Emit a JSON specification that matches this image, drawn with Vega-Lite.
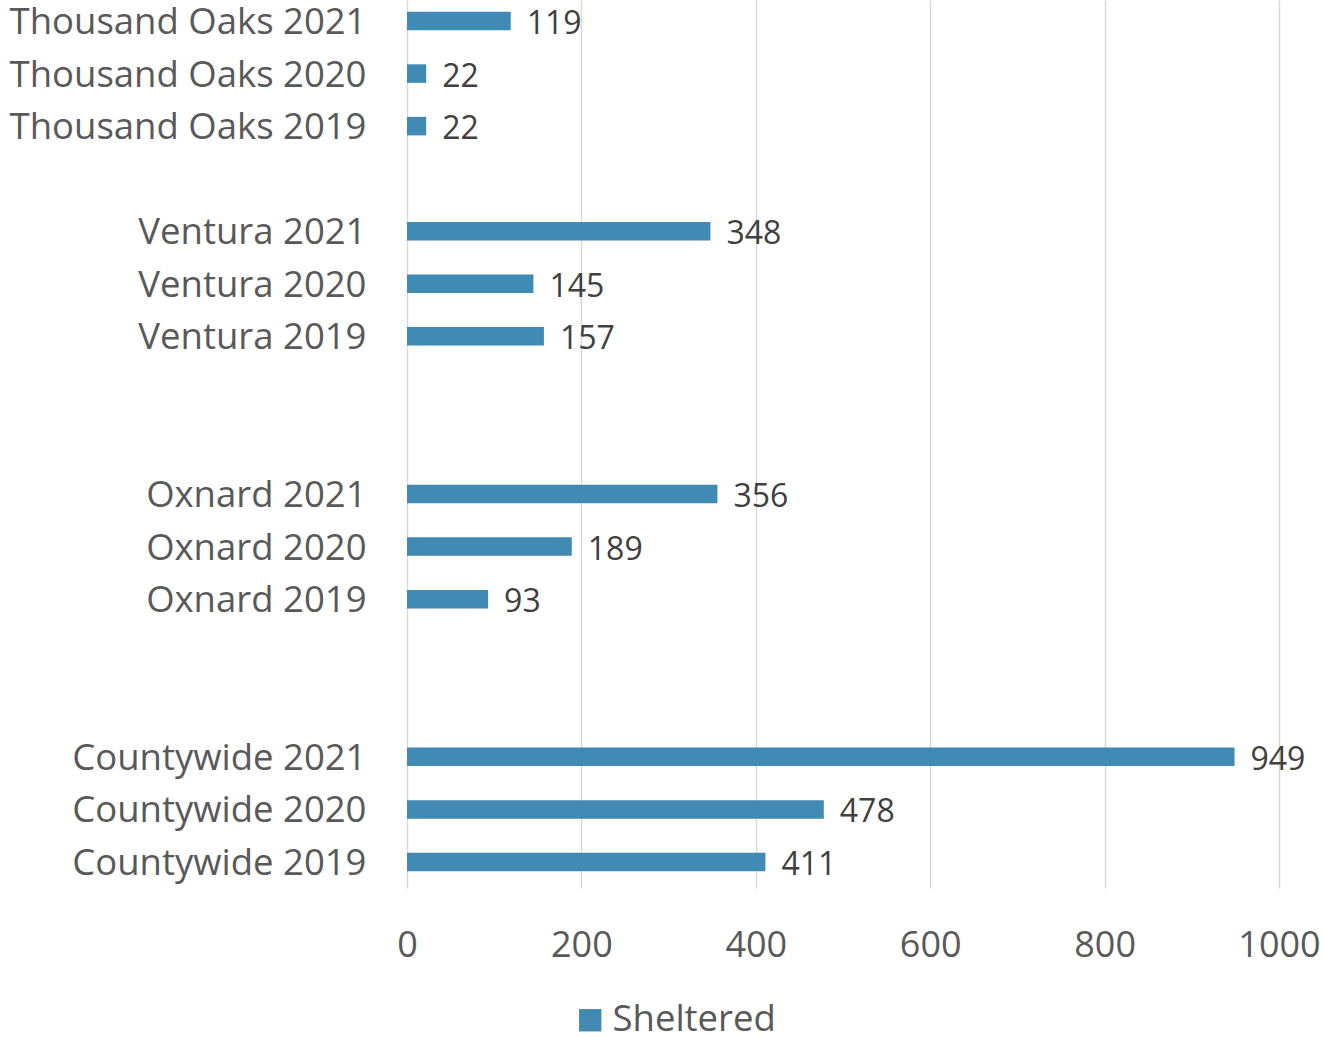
{
  "$schema": "https://vega.github.io/schema/vega-lite/v6.json",
  "width": 872,
  "height": 888,
  "autosize": {"type": "none"},
  "padding": {"left": 407, "top": 0, "right": 45, "bottom": 150},
  "background": "white",
  "config": {"view": {"stroke": null}, "font": "Open Sans"},
  "data": {
    "values": [
      {"label": "Thousand Oaks 2021", "value": 119, "series": "Sheltered"},
      {"label": "Thousand Oaks 2020", "value": 22, "series": "Sheltered"},
      {"label": "Thousand Oaks 2019", "value": 22, "series": "Sheltered"},
      {"label": "Ventura 2021", "value": 348, "series": "Sheltered"},
      {"label": "Ventura 2020", "value": 145, "series": "Sheltered"},
      {"label": "Ventura 2019", "value": 157, "series": "Sheltered"},
      {"label": "Oxnard 2021", "value": 356, "series": "Sheltered"},
      {"label": "Oxnard 2020", "value": 189, "series": "Sheltered"},
      {"label": "Oxnard 2019", "value": 93, "series": "Sheltered"},
      {"label": "Countywide 2021", "value": 949, "series": "Sheltered"},
      {"label": "Countywide 2020", "value": 478, "series": "Sheltered"},
      {"label": "Countywide 2019", "value": 411, "series": "Sheltered"}
    ]
  },
  "encoding": {
    "y": {
      "field": "label",
      "type": "nominal",
      "sort": null,
      "scale": {
        "domain": ["Thousand Oaks 2021", "Thousand Oaks 2020", "Thousand Oaks 2019", "gap1",
                   "Ventura 2021", "Ventura 2020", "Ventura 2019", "gap2", "gap3",
                   "Oxnard 2021", "Oxnard 2020", "Oxnard 2019", "gap4", "gap5",
                   "Countywide 2021", "Countywide 2020", "Countywide 2019"],
        "paddingInner": 0.648,
        "paddingOuter": 0.2715,
        "align": 0.412
      },
      "axis": {
        "title": null,
        "domain": false,
        "ticks": false,
        "grid": false,
        "labelExpr": "indexof(datum.value, 'gap') == 0 ? '' : datum.value",
        "labelFont": "Open Sans",
        "labelFontSize": 36.5,
        "labelColor": "#595959",
        "labelPadding": 41,
        "labelOffset": 2,
        "labelLimit": 500
      }
    },
    "x": {
      "field": "value",
      "type": "quantitative",
      "scale": {"domain": [0, 1000], "nice": false},
      "axis": {
        "title": null,
        "values": [0, 200, 400, 600, 800, 1000],
        "format": "d",
        "domain": false,
        "ticks": false,
        "tickSize": 0,
        "grid": true,
        "gridColor": "#D9D9D9",
        "gridWidth": 1.5,
        "labelFont": "Open Sans",
        "labelFontSize": 36,
        "labelColor": "#595959",
        "labelBaseline": "middle",
        "labelPadding": 57,
        "labelFlush": false,
        "labelOverlap": false
      }
    }
  },
  "layer": [
    {
      "mark": {"type": "bar", "color": "#418AB3"},
      "encoding": {
        "color": {
          "field": "series",
          "type": "nominal",
          "scale": {"range": ["#418AB3"]},
          "legend": {
            "title": null,
            "orient": "none",
            "legendX": 165,
            "legendY": 1002,
            "symbolType": "square",
            "symbolSize": 500,
            "symbolStrokeWidth": 0,
            "labelFont": "Open Sans",
            "labelFontSize": 36.5,
            "labelColor": "#595959",
            "labelOffset": 4,
            "labelLimit": 400
          }
        }
      }
    },
    {
      "mark": {
        "type": "text",
        "align": "left",
        "baseline": "middle",
        "dx": 16,
        "dy": 3,
        "font": "Open Sans",
        "fontSize": 32,
        "color": "#404040"
      },
      "encoding": {"text": {"field": "value", "type": "quantitative"}}
    }
  ]
}
